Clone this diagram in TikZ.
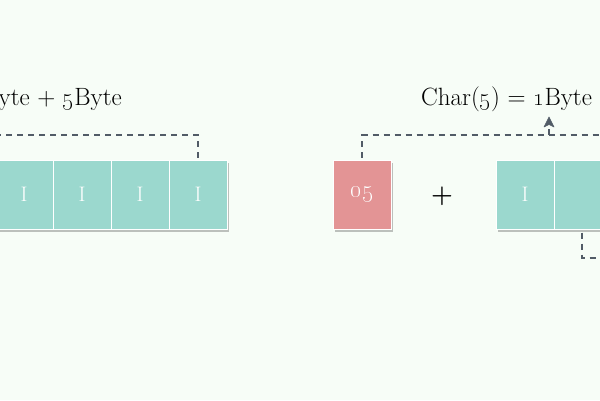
\documentclass[tikz,border=0pt]{standalone}
\usetikzlibrary{shadows,arrows.meta}
\definecolor{bgc}{HTML}{F7FDF7}
\definecolor{tealc}{HTML}{9BD8CE}
\definecolor{pinkc}{HTML}{E39495}
\definecolor{dashc}{HTML}{525C67}
\definecolor{shadowc}{HTML}{BCC0BC}
\begin{document}
\begin{tikzpicture}[x=1pt,y=1pt,
  cell/.style={minimum width=58pt,minimum height=69pt,inner sep=0pt,draw=white,line width=1pt,
     text=white,font=\fontsize{21}{24}\selectfont,
     drop shadow={shadow xshift=2pt,shadow yshift=-3pt,fill=shadowc,opacity=1}},
  tcell/.style={cell,fill=tealc},
  pcell/.style={cell,fill=pinkc,font=\fontsize{25}{28}\selectfont},
  dline/.style={draw=dashc,line width=2.2pt,dash pattern=on 6pt off 5pt},
  big/.style={font=\fontsize{25}{30}\selectfont,inner sep=0pt,text=black}]
\useasboundingbox (0,0) rectangle (600,400);
\clip (0,0) rectangle (600,400);
\fill[bgc] (0,0) rectangle (600,400);
% left row
\node[tcell] (L1) at (24,205.5) {I};
\node[tcell] (L2) at (82,205.5) {I};
\node[tcell] (L3) at (140,205.5) {I};
\node[tcell] (L4) at (198,205.5) {I};
% right part
\node[pcell] (P) at (362,205.5) {\oldstylenums{05}};
\node[big,font=\bfseries\fontsize{25}{28}\selectfont] (plus) at (442,204) {+};
\node[tcell] (R1) at (525,205.5) {I};
\node[tcell] (R2) at (583,205.5) {};
% texts
\node[big,anchor=base east] (tl) at (122,295) {yte + \oldstylenums{5}Byte};
\node[big,anchor=base west] (tr) at (421,295) {Char(\oldstylenums{5}) = \oldstylenums{1}Byte +};
% connectors
\coordinate (lend) at (-6,265);
\coordinate (rend) at (606,265);
\coordinate (abase) at (549,265);
\coordinate (amid) at (549,274);
\coordinate (atip) at (549,283);
\coordinate (bend) at (606,142);
\draw[dline,shorten <=2pt] (L4.north) |- (lend);
\draw[dline,shorten <=2pt] (P.north) |- (rend);
\draw[dline] (abase) -- (amid);
\draw[draw=dashc,fill=dashc,line width=0.6pt,line join=round]
   (atip) -- ([shift={(-5,-10)}]atip) -- ([shift={(0,-7.5)}]atip) -- ([shift={(5,-10)}]atip) -- cycle;
\draw[dline,shorten <=3pt] ([xshift=-1pt]R2.south) |- (bend);
\end{tikzpicture}
\end{document}
